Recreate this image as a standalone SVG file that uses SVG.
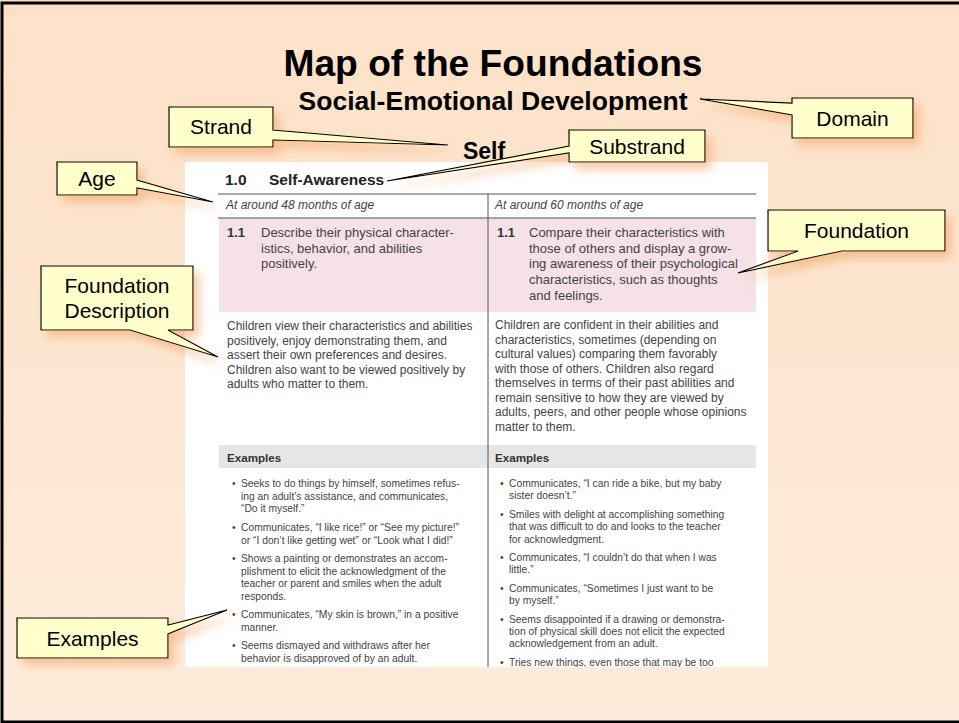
<svg xmlns="http://www.w3.org/2000/svg" width="959" height="723" viewBox="0 0 959 723">
<style>
.callout{fill:#FFFFCC;stroke:#000;stroke-width:1.2;stroke-linejoin:miter;filter:url(#sh)}
.ct{font-family:"Liberation Sans",Arial,Helvetica,sans-serif;font-size:21px;fill:#000;text-anchor:middle}
.title{font-family:"Liberation Sans",Arial,Helvetica,sans-serif;font-weight:bold;fill:#000;text-anchor:middle}
.body{font-family:"Liberation Sans",Arial,Helvetica,sans-serif;fill:#444}
.f13{font-size:13px}
.f12{font-size:12px}
.f10{font-size:10.3px}
.b{font-weight:bold;fill:#333}
.rule{stroke:#555;stroke-width:1;fill:none}
</style>
<defs>
<linearGradient id="bg" x1="0" y1="0" x2="0" y2="1">
<stop offset="0" stop-color="#FCE1C7"/>
<stop offset="1" stop-color="#FEECDB"/>
</linearGradient>
<filter id="sh" x="-30%" y="-30%" width="170%" height="180%">
<feGaussianBlur in="SourceAlpha" stdDeviation="5"/>
<feOffset dx="6" dy="7" result="b"/>
<feFlood flood-color="#F2A262" flood-opacity="0.55"/>
<feComposite in2="b" operator="in"/>
<feMerge><feMergeNode/><feMergeNode in="SourceGraphic"/></feMerge>
</filter>
<clipPath id="page"><rect x="185" y="162" width="583" height="505"/></clipPath>
</defs>

<rect x="0" y="0" width="959" height="723" fill="url(#bg)"/>
<path d="M959,3 H2 V722 H959" fill="none" stroke="#000" stroke-width="3"/>

<g id="titles">
<text class="title" x="493" y="76" font-size="36" textLength="419" lengthAdjust="spacingAndGlyphs">Map of the Foundations</text>
<text class="title" x="493" y="110" font-size="25" textLength="389" lengthAdjust="spacingAndGlyphs">Social-Emotional Development</text>
<text class="title" x="484" y="159" font-size="23">Self</text>
</g>

<g id="page-excerpt" clip-path="url(#page)">
<rect x="185" y="162" width="583" height="505" fill="#fff"/>
<rect x="219" y="218" width="537" height="94" fill="#F5E1E7"/>
<rect x="219" y="445" width="537" height="23" fill="#E6E6E6"/>
<line class="rule" x1="218" y1="194" x2="756" y2="194"/>
<line class="rule" x1="218" y1="218" x2="756" y2="218"/>
<line class="rule" x1="488" y1="194" x2="488" y2="667"/>

<text x="225" y="185" font-family="Liberation Sans, Arial, sans-serif" font-size="15.5" font-weight="bold" fill="#222">1.0</text>
<text x="269" y="185" font-family="Liberation Sans, Arial, sans-serif" font-size="15.5" font-weight="bold" fill="#222">Self-Awareness</text>

<text class="body f12" x="226" y="209" font-style="italic">At around 48 months of age</text>
<text class="body f12" x="495" y="209" font-style="italic">At around 60 months of age</text>

<g class="body f13">
<text class="b" x="227" y="237">1.1</text>
<text x="261" y="237">Describe their physical character-</text>
<text x="261" y="252.7">istics, behavior, and abilities</text>
<text x="261" y="268.4">positively.</text>
<text class="b" x="497" y="237">1.1</text>
<text x="529" y="237">Compare their characteristics with</text>
<text x="529" y="252.7">those of others and display a grow-</text>
<text x="529" y="268.4">ing awareness of their psychological</text>
<text x="529" y="284.1">characteristics, such as thoughts</text>
<text x="529" y="299.8">and feelings.</text>
</g>

<g class="body f12">
<text x="227" y="330">Children view their characteristics and abilities</text>
<text x="227" y="344.5">positively, enjoy demonstrating them, and</text>
<text x="227" y="359">assert their own preferences and desires.</text>
<text x="227" y="373.5">Children also want to be viewed positively by</text>
<text x="227" y="388">adults who matter to them.</text>
<text x="495" y="329">Children are confident in their abilities and</text>
<text x="495" y="343.5">characteristics, sometimes (depending on</text>
<text x="495" y="358">cultural values) comparing them favorably</text>
<text x="495" y="372.5">with those of others. Children also regard</text>
<text x="495" y="387">themselves in terms of their past abilities and</text>
<text x="495" y="401.5">remain sensitive to how they are viewed by</text>
<text x="495" y="416">adults, peers, and other people whose opinions</text>
<text x="495" y="430.5">matter to them.</text>
</g>

<text x="227" y="462" font-family="Liberation Sans, Arial, sans-serif" font-size="11.6" font-weight="bold" fill="#333">Examples</text>
<text x="495" y="462" font-family="Liberation Sans, Arial, sans-serif" font-size="11.6" font-weight="bold" fill="#333">Examples</text>

<g class="body f10">
<text x="232" y="487">•</text>
<text x="241" y="487">Seeks to do things by himself, sometimes refus-</text>
<text x="241" y="499.5">ing an adult’s assistance, and communicates,</text>
<text x="241" y="512">“Do it myself.”</text>
<text x="232" y="531">•</text>
<text x="241" y="531">Communicates, “I like rice!” or “See my picture!”</text>
<text x="241" y="543.5">or “I don’t like getting wet” or “Look what I did!”</text>
<text x="232" y="562">•</text>
<text x="241" y="562">Shows a painting or demonstrates an accom-</text>
<text x="241" y="574.5">plishment to elicit the acknowledgment of the</text>
<text x="241" y="587">teacher or parent and smiles when the adult</text>
<text x="241" y="599.5">responds.</text>
<text x="232" y="618">•</text>
<text x="241" y="618">Communicates, “My skin is brown,” in a positive</text>
<text x="241" y="630.5">manner.</text>
<text x="232" y="649">•</text>
<text x="241" y="649">Seems dismayed and withdraws after her</text>
<text x="241" y="661.5">behavior is disapproved of by an adult.</text>

<text x="500" y="487">•</text>
<text x="509" y="487">Communicates, “I can ride a bike, but my baby</text>
<text x="509" y="499.3">sister doesn’t.”</text>
<text x="500" y="518">•</text>
<text x="509" y="518">Smiles with delight at accomplishing something</text>
<text x="509" y="530.3">that was difficult to do and looks to the teacher</text>
<text x="509" y="542.6">for acknowledgment.</text>
<text x="500" y="561">•</text>
<text x="509" y="561">Communicates, “I couldn’t do that when I was</text>
<text x="509" y="573.3">little.”</text>
<text x="500" y="592">•</text>
<text x="509" y="592">Communicates, “Sometimes I just want to be</text>
<text x="509" y="604.3">by myself.”</text>
<text x="500" y="622.5">•</text>
<text x="509" y="622.5">Seems disappointed if a drawing or demonstra-</text>
<text x="509" y="634.8">tion of physical skill does not elicit the expected</text>
<text x="509" y="647.1">acknowledgement from an adult.</text>
<text x="500" y="666">•</text>
<text x="509" y="666">Tries new things, even those that may be too</text>
</g>
</g>

<g id="callout-domain">
<path class="callout" d="M792,98 H913 V138 H792 V115 L700,99 L792,103 Z"/>
<text class="ct" x="852.5" y="125.5">Domain</text>
</g>
<g id="callout-strand">
<path class="callout" d="M169,107 H273 V130 L448,145 L273,140 V147 H169 Z"/>
<text class="ct" x="221" y="134">Strand</text>
</g>
<g id="callout-substrand">
<path class="callout" d="M569,130 H705 V162 H569 V153 L387,181 L569,146 Z"/>
<text class="ct" x="637" y="153.5">Substrand</text>
</g>
<g id="callout-age">
<path class="callout" d="M57,162 H137 V180 L213,202 L137,188 V195 H57 Z"/>
<text class="ct" x="97" y="186">Age</text>
</g>
<g id="callout-foundation">
<path class="callout" d="M768,210 H945 V251 H842 L738,273 L798,251 H768 Z"/>
<text class="ct" x="856.5" y="238">Foundation</text>
</g>
<g id="callout-foundation-description">
<path class="callout" d="M41,266 H193 V330 H168 L218,357 L130,330 H41 Z"/>
<text class="ct" x="117" y="293">Foundation</text>
<text class="ct" x="117" y="318">Description</text>
</g>
<g id="callout-examples">
<path class="callout" d="M17,618 H168 V625 L227,610 L168,634 V658 H17 Z"/>
<text class="ct" x="92.5" y="645.5">Examples</text>
</g>
</svg>
